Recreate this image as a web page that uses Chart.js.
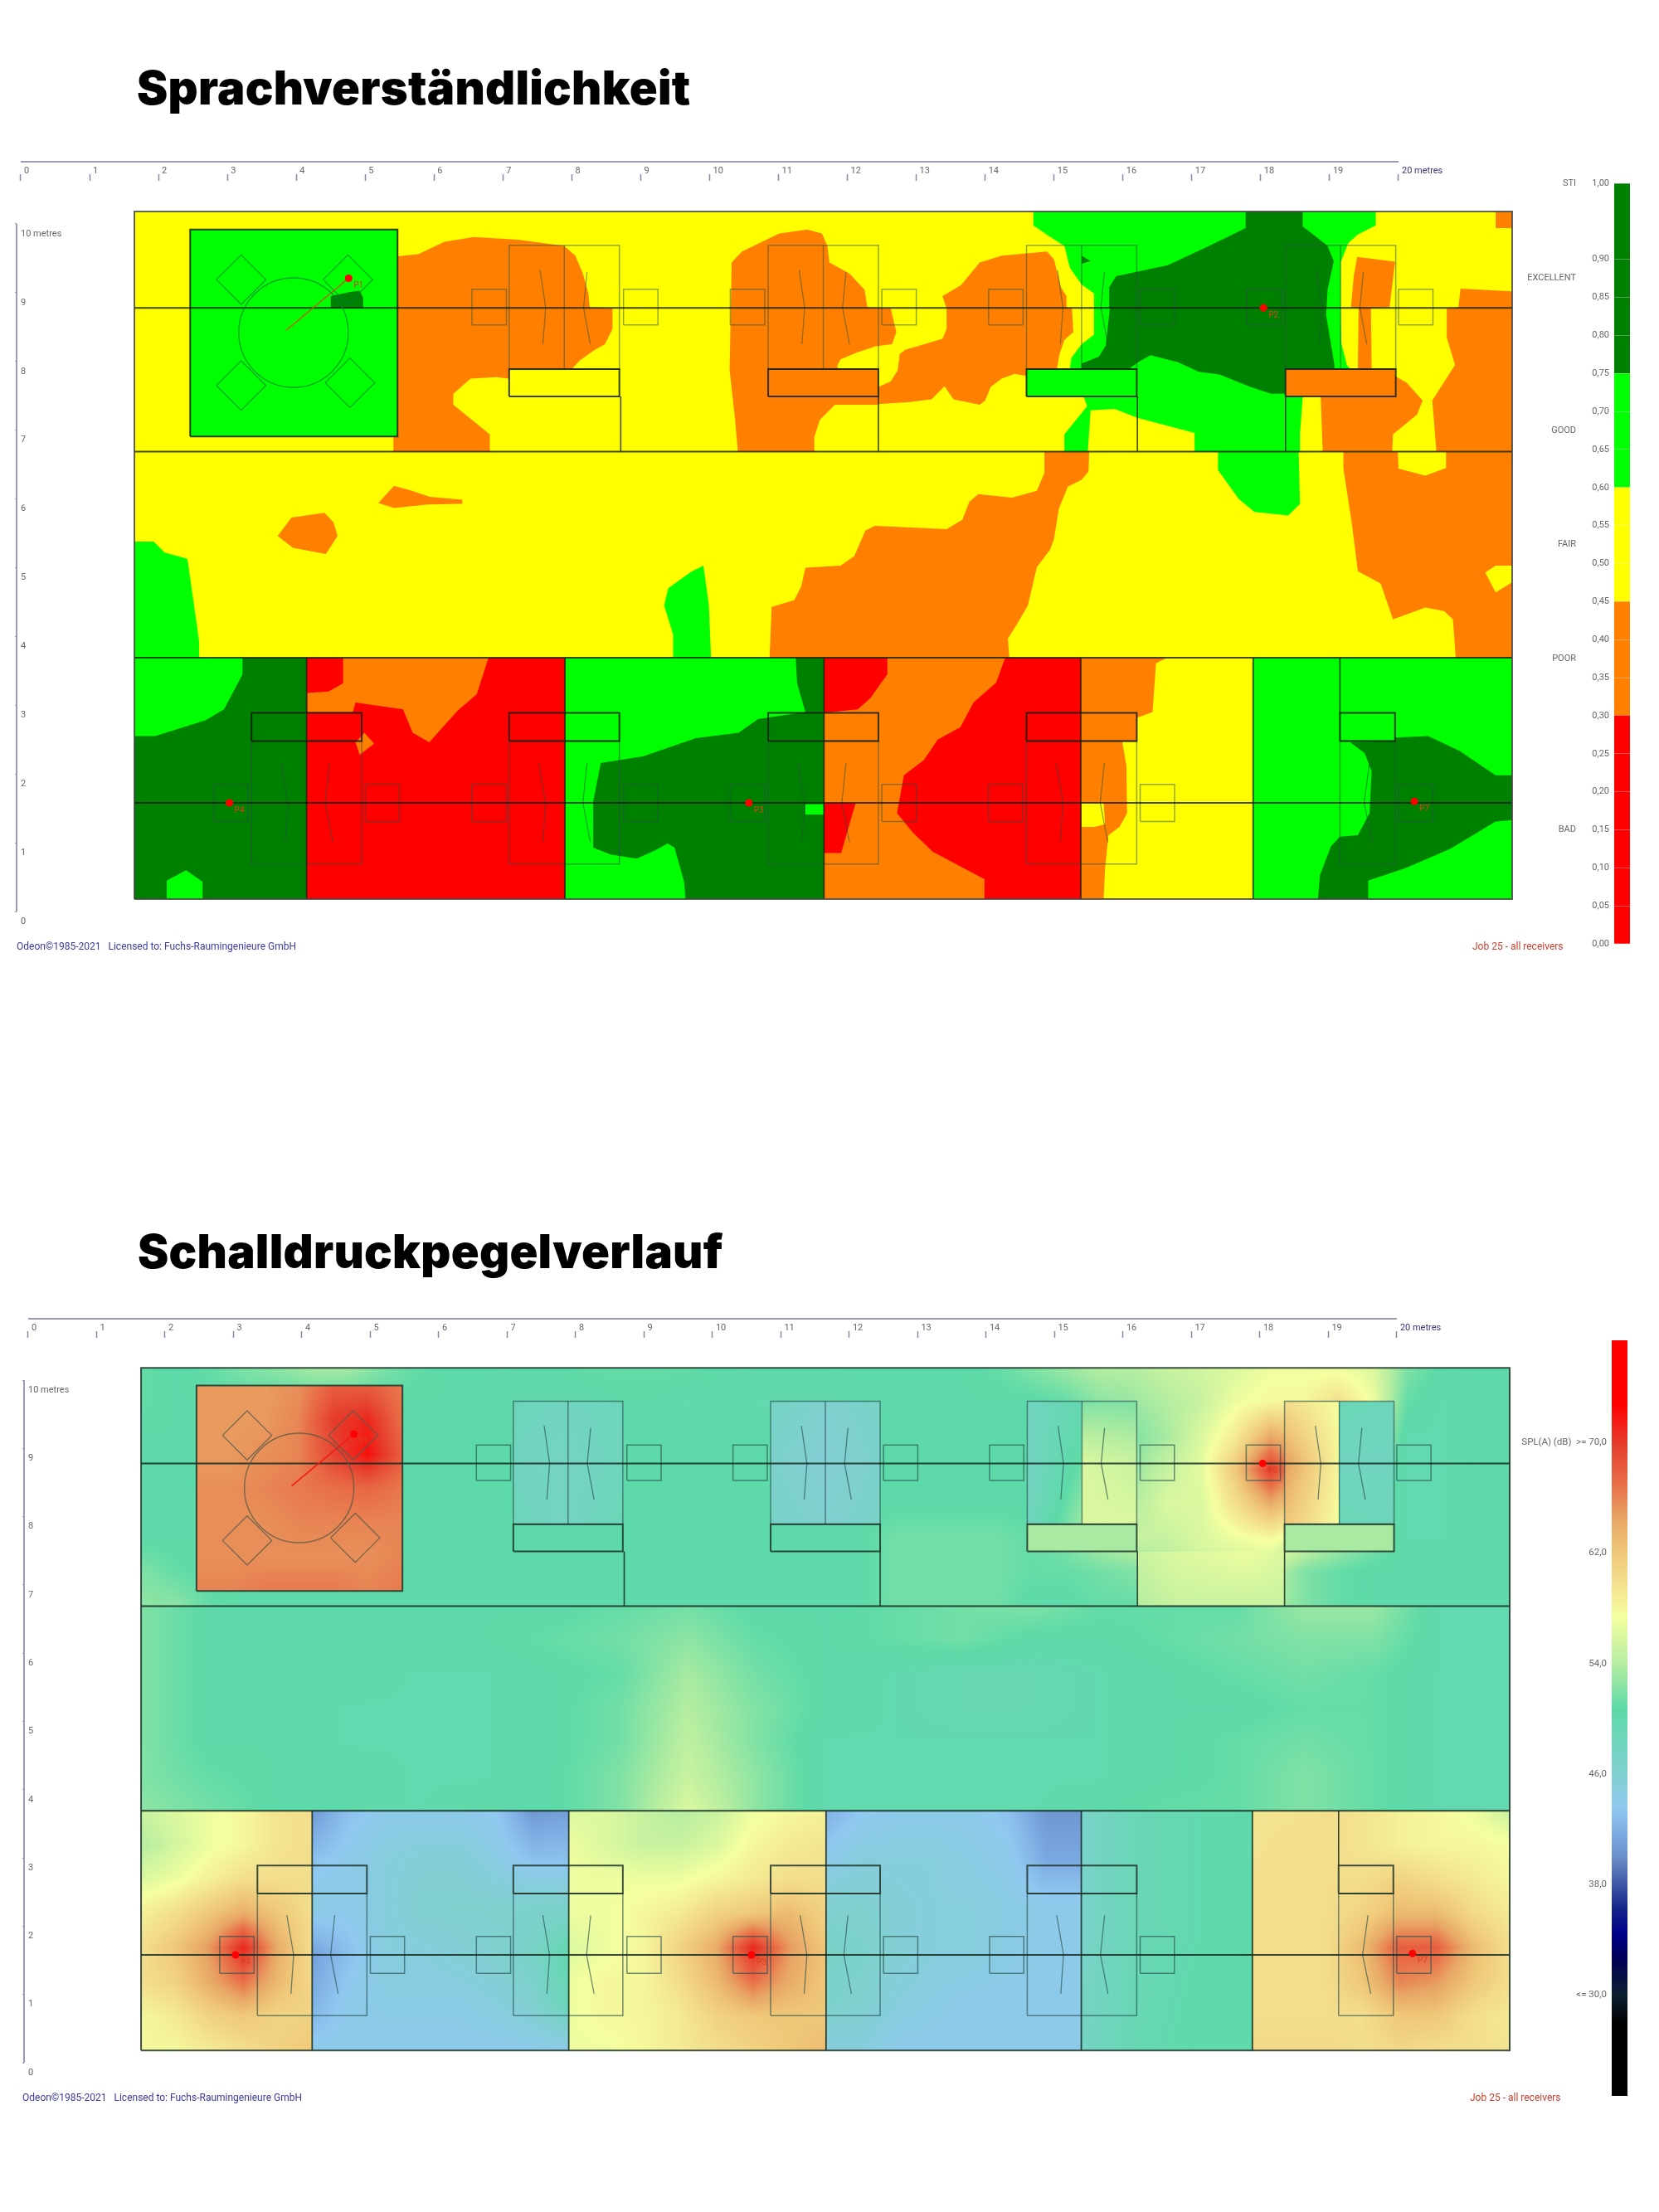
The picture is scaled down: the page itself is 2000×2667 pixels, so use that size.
<!DOCTYPE html>
<html>
<head>
<meta charset="utf-8">
<title>Sprachverständlichkeit / Schalldruckpegelverlauf</title>
<script src="https://cdn.jsdelivr.net/npm/chart.js@4"></script>
<style>
    body { margin: 0; background: #fff; width: 2000px; height: 2667px; position: relative; overflow: hidden; }
    canvas { position: absolute; }
    h1 { position: absolute; margin: 0; font: 900 56px Inter, sans-serif; letter-spacing: 0.25px; color: #000; white-space: nowrap; }
    .note { position: absolute; font: 12px Roboto, sans-serif; white-space: nowrap; }
</style>
</head>
<body>
<h1 style="left:165px; top:72px">Sprachverständlichkeit</h1>
<h1 style="left:166px; top:1475px">Schalldruckpegelverlauf</h1>
<canvas id="stiPlan" width="1850" height="1000" style="left:0; top:150px"></canvas>
<canvas id="stiBar" width="220" height="960" style="left:1780px; top:200px"></canvas>
<canvas id="splPlan" width="1850" height="1000" style="left:0; top:1550px"></canvas>
<canvas id="splBar" width="300" height="950" style="left:1700px; top:1600px"></canvas>
<div class="note" style="left:20px; top:1134px; color:#3a3aa0">Odeon©1985-2021 &nbsp; Licensed to: Fuchs-Raumingenieure GmbH</div>
<div class="note" style="left:1775px; top:1134px; color:#c8402f">Job 25 - all receivers</div>
<div class="note" style="left:27px; top:2522px; color:#3a3aa0">Odeon©1985-2021 &nbsp; Licensed to: Fuchs-Raumingenieure GmbH</div>
<div class="note" style="left:1772px; top:2522px; color:#c8402f">Job 25 - all receivers</div>
<script>
// Alle Positionen in Metern auf dem Lineal des Plans (x, y)
const rulerXValues = [0, 1, 2, 3, 4, 5, 6, 7, 8, 9, 10, 11, 12, 13, 14, 15, 16, 17, 18, 19, 20];
const rulerYValues = [0, 1, 2, 3, 4, 5, 6, 7, 8, 9, 10];

// STI Skala
const stiTicks = [0, 0.05, 0.1, 0.15, 0.2, 0.25, 0.3, 0.35, 0.4, 0.45, 0.5, 0.55, 0.6, 0.65, 0.7, 0.75, 0.8, 0.85, 0.9, 1];
const stiBandEdges = [0, 0.3, 0.45, 0.6, 0.75, 1];
const stiBandColors = ['#ff0000', '#ff8000', '#ffff00', '#00ff00', '#008000'];
const stiGrades = ['BAD', 'POOR', 'FAIR', 'GOOD', 'EXCELLENT', 'STI'];
const stiGradeValues = [0.15, 0.375, 0.525, 0.675, 0.875, 1];

// SPL Skala
const splTicks = [30, 38, 46, 54, 62, 70];
const splStops = [77.4, 72.8, 70, 66.8, 64.5, 62, 59.8, 57.4, 54, 50.7, 46, 43.5, 41.5, 40, 38, 36.3, 34.4, 32.7, 30, 28, 22.7];
const splStopColors = ['#ff0000', '#ff0000', '#e63b2c', '#e8734a', '#e8a565', '#efc878', '#f3e08e', '#f5ff9f', '#b5eda0', '#5ddaa8', '#80d0d0', '#90c8f0', '#7aa8e0', '#6a8fc8', '#3e58a8', '#16258a', '#00008a', '#000058', '#0c2030', '#000000', '#000000'];

// STI Zonen, oberer Raum
const floorAll = [[1.65, 0.18], [21.65, 0.18], [21.65, 10.18], [1.65, 10.18]];
const upperOrangeA = [[5.47, 9.53], [5.77, 9.56], [6.15, 9.74], [6.58, 9.81], [7.22, 9.77], [7.89, 9.68], [8.05, 9.54], [8.16, 9.28], [8.24, 8.99], [8.26, 8.79], [8.59, 8.77], [8.59, 8.47], [8.48, 8.25], [8.32, 8.16], [8.11, 8.01], [8, 7.89], [7.09, 7.89], [7.09, 7.75], [6.9, 7.77], [6.53, 7.75], [6.28, 7.53], [6.28, 7.37], [6.81, 6.94], [6.81, 6.69], [5.41, 6.69], [5.41, 6.91], [5.47, 6.91]];
const upperOrangeB = [[10.41, 6.69], [10.37, 7.15], [10.29, 7.87], [10.32, 9.44], [10.47, 9.6], [11.01, 9.86], [11.42, 9.92], [11.63, 9.86], [11.71, 9.68], [11.74, 9.44], [12.03, 9.28], [12.25, 9.04], [12.29, 8.79], [12.63, 8.77], [12.71, 8.43], [12.65, 8.25], [12.41, 8.22], [12.14, 8.13], [11.9, 8.03], [11.85, 7.93], [11.87, 7.89], [12.45, 7.89], [12.45, 7.37], [11.82, 7.37], [11.6, 7.15], [11.52, 6.9], [11.52, 6.69]];
const upperOrangeC = [[12.45, 7.63], [12.63, 7.71], [12.73, 7.87], [12.76, 8.11], [12.84, 8.17], [13.38, 8.33], [13.44, 8.47], [13.44, 8.77], [13.38, 8.95], [13.65, 9.11], [13.92, 9.44], [14.24, 9.54], [14.9, 9.6], [15, 9.48], [15.1, 9.08], [15.18, 8.95], [15.18, 8.79], [15.26, 8.77], [15.28, 8.43], [15.15, 8.31], [15.08, 8.11], [15.04, 7.89], [14.6, 7.89], [14.6, 7.79], [14.43, 7.82], [14.24, 7.75], [14.08, 7.63], [14, 7.43], [13.92, 7.37], [13.54, 7.45], [13.41, 7.64], [13.22, 7.45], [12.9, 7.41], [12.45, 7.38]];
const upperGreen = [[14.7, 10.18], [19.67, 10.18], [19.67, 9.98], [19.4, 9.84], [19.27, 9.72], [19.16, 9.44], [19.16, 8.79], [19.17, 8.27], [19.25, 7.95], [19.3, 7.89], [18.36, 7.89], [18.36, 7.49], [18.61, 7.49], [18.57, 6.94], [18.57, 6.69], [17.05, 6.69], [17.04, 6.96], [16.21, 7.18], [15.88, 7.31], [15.53, 7.29], [15.49, 6.69], [15.15, 6.69], [15.15, 6.94], [15.48, 7.35], [15.43, 7.49], [14.6, 7.49], [14.6, 7.89], [15.23, 7.89], [15.25, 8.05], [15.4, 8.25], [15.58, 8.39], [15.58, 8.99], [15.4, 9.12], [15.23, 9.36], [15.15, 9.68], [14.9, 9.84], [14.7, 9.98]];
const upperDark = [[17.78, 10.18], [18.61, 10.18], [18.61, 9.96], [18.8, 9.82], [18.97, 9.68], [19.06, 9.46], [18.97, 9.04], [18.95, 8.67], [19.07, 7.95], [19.07, 7.89], [18.36, 7.89], [18.36, 7.53], [18.15, 7.53], [17.85, 7.63], [17.4, 7.81], [17.1, 7.85], [16.8, 7.99], [16.4, 8.09], [16.22, 7.99], [16.1, 7.9], [15.4, 7.89], [15.4, 7.97], [15.65, 8.07], [15.75, 8.23], [15.81, 8.77], [15.8, 9.08], [15.9, 9.24], [16.65, 9.4], [17.25, 9.68], [17.78, 9.94]];
const upperDarkTip = [[15.4, 9.54], [15.53, 9.46], [15.4, 9.42]];
const upperOrangeD = [[18.36, 7.89], [19.95, 7.89], [19.95, 7.79], [20.12, 7.69], [20.35, 7.43], [20.27, 7.23], [19.92, 6.94], [19.91, 6.69], [18.9, 6.69], [18.87, 7.49], [18.36, 7.49]];
const upperOrangeStrip = [[19.4, 9.52], [19.95, 9.45], [19.87, 8.79], [19.6, 8.77], [19.61, 7.89], [19.41, 7.89], [19.42, 8.77], [19.31, 8.79], [19.35, 9.24]];
const upperOrangeRight = [[20.9, 9.06], [21.65, 9.02], [21.65, 6.69], [20.55, 6.69], [20.49, 7.43], [20.82, 7.95], [20.7, 8.35], [20.7, 8.77], [20.87, 8.79]];
const upperOrangeCorner = [[21.41, 10.18], [21.65, 10.18], [21.65, 9.94], [21.41, 9.94]];
const tableGreen = [[2.46, 6.91], [5.47, 6.91], [5.47, 9.92], [2.46, 9.92]];
const tableDark = [[4.5, 8.78], [4.5, 8.95], [4.78, 9.01], [4.92, 9.03], [4.97, 8.93], [4.97, 8.78]];

// STI Zonen, mittlerer Raum
const midGreenLeft = [[1.65, 5.38], [1.93, 5.38], [2.09, 5.22], [2.42, 5.13], [2.59, 3.93], [2.59, 3.69], [1.65, 3.69]];
const midOrangeTail = [[5.42, 6.19], [5.68, 6.12], [5.94, 6.03], [6.41, 5.99], [6.41, 5.93], [5.91, 5.92], [5.42, 5.87], [5.19, 5.94]];
const midOrangeSpot = [[3.93, 5.73], [4.41, 5.8], [4.54, 5.66], [4.6, 5.46], [4.43, 5.2], [3.95, 5.29], [3.73, 5.46]];
const midGreenCentre = [[9.91, 5.03], [9.99, 4.45], [10.02, 3.69], [9.47, 3.69], [9.47, 4.03], [9.34, 4.45], [9.4, 4.7], [9.73, 4.94]];
const midOrangeBand = [[11.39, 5], [11.74, 5.02], [11.9, 5.03], [12.1, 5.17], [12.26, 5.54], [12.4, 5.61], [13.44, 5.56], [13.67, 5.7], [13.77, 5.96], [13.9, 6.07], [14.39, 6.02], [14.75, 6.12], [14.86, 6.38], [14.86, 6.69], [15.51, 6.69], [15.5, 6.4], [15.4, 6.28], [15.2, 6.18], [15.07, 5.86], [15, 5.42], [14.94, 5.26], [14.75, 5.01], [14.62, 4.45], [14.48, 4.21], [14.33, 3.97], [14.35, 3.69], [10.87, 3.69], [10.9, 4.43], [11.23, 4.53], [11.33, 4.73]];
const midGreenRight = [[17.38, 6.69], [18.55, 6.69], [18.57, 5.93], [18.4, 5.76], [17.91, 5.81], [17.68, 6], [17.38, 6.42]];
const midOrangeRight = [[19.2, 6.69], [21.65, 6.69], [21.65, 3.69], [20.83, 3.69], [20.79, 4.25], [20.66, 4.37], [20.39, 4.42], [19.92, 4.25], [19.74, 4.77], [19.41, 4.95], [19.32, 5.66], [19.2, 6.44]];
const midYellowTop = [[19.99, 6.69], [20.69, 6.69], [20.69, 6.45], [20.39, 6.34], [20, 6.44]];
const midYellowSide = [[21.41, 5.03], [21.65, 5.03], [21.65, 4.79], [21.41, 4.64], [21.26, 4.93]];

// STI Zonen, untere Räume
const lowDarkA = [[1.65, 0.18], [4.15, 0.18], [4.15, 3.69], [1.65, 3.69]];
const lowGreenA = [[1.65, 3.69], [3.22, 3.69], [3.22, 3.45], [2.95, 2.94], [2.68, 2.78], [1.95, 2.55], [1.65, 2.55]];
const lowGreenB = [[2.12, 0.18], [2.12, 0.45], [2.4, 0.6], [2.64, 0.43], [2.64, 0.18]];
const lowRedA = [[4.15, 0.18], [7.9, 0.18], [7.9, 3.69], [4.15, 3.69]];
const lowOrangeA = [[4.68, 3.69], [6.79, 3.69], [6.62, 3.16], [6.34, 2.92], [5.93, 2.46], [5.69, 2.6], [5.55, 2.94], [4.86, 3.04], [4.82, 2.9], [4.16, 2.9], [4.16, 3.18], [4.47, 3.2], [4.68, 3.32]];
const lowOrangeTip = [[4.99, 2.6], [5.13, 2.44], [4.92, 2.28], [4.86, 2.46]];
const lowGreenC = [[7.9, 0.18], [11.66, 0.18], [11.66, 3.69], [7.9, 3.69]];
const lowDarkC = [[11.25, 3.69], [11.66, 3.69], [11.66, 0.18], [9.65, 0.18], [9.63, 0.43], [9.49, 0.93], [9.39, 0.99], [9.21, 0.89], [8.94, 0.77], [8.56, 0.83], [8.31, 0.93], [8.31, 1.6], [8.42, 2.16], [9.04, 2.26], [9.8, 2.52], [10.42, 2.6], [10.7, 2.8], [11.39, 2.9], [11.27, 3.32]];
const lowGreenSquare = [[11.39, 1.41], [11.66, 1.41], [11.66, 1.56], [11.39, 1.56]];
const lowRedD = [[11.66, 0.18], [15.39, 0.18], [15.39, 3.69], [11.66, 3.69]];
const lowOrangeD = [[12.58, 3.69], [14.29, 3.69], [14.16, 3.33], [13.83, 3.04], [13.64, 2.68], [13.31, 2.5], [13.11, 2.2], [12.82, 1.98], [12.72, 1.43], [12.95, 1.15], [13.24, 0.87], [13.99, 0.47], [13.99, 0.18], [11.66, 0.18], [11.66, 0.85], [11.91, 0.85], [12.12, 1.58], [11.66, 1.58], [11.66, 2.89], [12.15, 2.94], [12.33, 3.1], [12.58, 3.45]];
const lowOrangeE = [[15.4, 3.69], [16.64, 3.69], [16.48, 3.61], [16.43, 2.9], [16.21, 2.82], [16.21, 2.47], [15.99, 2.47], [16.05, 2.12], [16.06, 1.43], [15.95, 1.23], [15.79, 1.11], [15.74, 0.63], [15.72, 0.18], [15.4, 0.18]];
const lowYellowPatch = [[15.4, 1.58], [15.72, 1.58], [15.74, 1.27], [15.59, 1.23], [15.4, 1.23]];
const lowGreenF = [[17.89, 0.18], [21.65, 0.18], [21.65, 3.69], [17.89, 3.69]];
const lowDarkF = [[19.3, 2.46], [19.94, 2.48], [19.94, 2.53], [20.43, 2.55], [20.88, 2.34], [21.41, 1.98], [21.65, 1.98], [21.65, 1.33], [21.41, 1.31], [20.75, 0.91], [20.1, 0.63], [19.56, 0.45], [19.56, 0.18], [18.83, 0.18], [18.86, 0.53], [19.02, 0.95], [19.15, 1.09], [19.41, 1.11], [19.58, 1.43], [19.61, 2.04], [19.51, 2.3]];

// Reihenfolge: von unten nach oben, [STI Wert, Zone]
const stiZones = [
    [0.5, floorAll],
    [0.4, upperOrangeA], [0.4, upperOrangeB], [0.4, upperOrangeC], [0.65, upperGreen], [0.8, upperDark], [0.8, upperDarkTip],
    [0.4, upperOrangeD], [0.4, upperOrangeStrip], [0.4, upperOrangeRight], [0.4, upperOrangeCorner], [0.65, tableGreen], [0.8, tableDark],
    [0.65, midGreenLeft], [0.4, midOrangeTail], [0.4, midOrangeSpot], [0.65, midGreenCentre], [0.4, midOrangeBand], [0.65, midGreenRight],
    [0.4, midOrangeRight], [0.5, midYellowTop], [0.5, midYellowSide],
    [0.8, lowDarkA], [0.65, lowGreenA], [0.65, lowGreenB], [0.15, lowRedA], [0.4, lowOrangeA], [0.4, lowOrangeTip],
    [0.65, lowGreenC], [0.8, lowDarkC], [0.65, lowGreenSquare], [0.15, lowRedD], [0.4, lowOrangeD], [0.4, lowOrangeE], [0.5, lowYellowPatch],
    [0.65, lowGreenF], [0.8, lowDarkF]
];

// SPL in dB, Zeilen von oben nach unten, Stützstellen gleichmäßig im Rechteck
const splUpper = [
    [51, 50.5, 51, 52, 52.5, 53.5, 53.5, 52, 51, 50.5, 50.5, 50.5, 50.5, 51, 51, 51, 51, 50.5, 50.5, 50.5, 50.5, 50.5, 50.5, 50.5, 50.5, 51, 52, 53, 54, 54, 55, 55.5, 56, 57, 57, 57, 56, 52, 50.5, 50.5, 50.5],
    [51, 50.5, 50.5, 50.5, 50.5, 50.5, 50.5, 50.5, 50.5, 50.5, 50.5, 50, 50, 50, 50.5, 50.5, 50, 50.5, 50, 50, 50, 50.5, 50.5, 50.5, 50.5, 50.5, 50.5, 51, 52.5, 53, 54, 55, 57, 58, 58, 60, 57, 51, 50, 50.5, 50.5],
    [50.5, 50.5, 50.5, 50.5, 50.5, 50.5, 50.5, 50.5, 50.5, 50.5, 50.5, 50.5, 50.5, 50.5, 50.5, 50.5, 50.5, 50.5, 50.5, 50.5, 50.5, 50.5, 50.5, 50.5, 50.5, 50.5, 50.5, 51, 53, 52, 53.5, 56, 59, 64, 62, 58, 55, 50, 50, 50.5, 50.5],
    [50.5, 50.5, 50.5, 50.5, 50.5, 50.5, 50.5, 50.5, 50.5, 50.5, 50.5, 50.5, 50.5, 50.5, 50.5, 50.5, 50.5, 50.5, 50.5, 50.5, 50.5, 50.5, 50.5, 50.5, 50.5, 50.5, 50.5, 51, 54, 53, 55, 56.5, 62, 70, 64, 58, 52, 50, 50, 50.5, 50.5],
    [50.5, 50.5, 50.5, 50.5, 50.5, 50.5, 50.5, 50.5, 50.5, 50.5, 50.5, 50.5, 50.5, 50.5, 50.5, 50.5, 50.5, 50.5, 50.5, 50.5, 50.5, 50.5, 50.5, 50.5, 50.5, 50.5, 50.5, 51, 53, 54, 56, 56, 60, 64, 61, 57, 52, 50, 50, 50.5, 50.5],
    [50.5, 50.5, 50.5, 50.5, 50.5, 50.5, 50.5, 50.5, 50.5, 50.5, 50.5, 50.5, 50.5, 50.5, 50.5, 50.5, 50.5, 50.5, 50.5, 50.5, 50.5, 50.5, 51.5, 51.5, 51.5, 51.5, 51, 52, 54, 55, 55, 56, 57, 58, 56, 54, 52, 50, 50, 50.5, 50.5],
    [52, 51, 50.5, 50.5, 50.5, 50.5, 50.5, 50.5, 50.5, 50.5, 50.5, 50.5, 50.5, 50.5, 50.5, 50.5, 50.5, 50.5, 50.5, 50.5, 50.5, 50.5, 51.5, 51.5, 51.5, 51.5, 51, 51, 51.5, 52, 54, 55, 55, 54.5, 52, 51, 50.5, 50.5, 50.5, 50.5, 50.5],
    [52.5, 52.5, 51, 50.5, 50.5, 50.5, 50.5, 50.5, 50.5, 50.5, 50.5, 50.5, 50.5, 50.5, 50.5, 50.5, 50.5, 50.5, 50.5, 50.5, 50.5, 50.5, 51.5, 51.5, 51.5, 51.5, 50.5, 50.5, 51, 51, 53, 53, 54, 54, 52, 51, 50.5, 50.5, 50.5, 50.5, 50.5]
];
const splMiddle = [
    [52, 50.5, 50.5, 50.5, 50.5, 50.5, 50.5, 51, 51.5, 50.5, 50.5, 51, 51.5, 52, 51, 51, 51, 53, 53, 50, 50],
    [52, 50.5, 50.5, 50.5, 50.5, 50.5, 51, 51.5, 52.5, 51, 50.5, 51, 51.5, 50.5, 50.5, 51, 51.5, 52, 52, 50, 50],
    [52, 50.5, 50.5, 50.5, 50, 50, 50.5, 51, 53.5, 51.5, 50.5, 50, 49.5, 49.5, 50, 50.5, 51, 51.5, 51, 50, 50],
    [52, 50.5, 50.5, 50, 50, 50, 50.5, 51.5, 54, 52, 50.5, 50, 49.5, 49.5, 50, 50.5, 50.5, 51, 51, 50, 50],
    [52, 50.5, 50.5, 50, 50, 50, 50.5, 51.5, 54.5, 52, 50, 50, 50, 50, 50, 50.5, 51, 51.5, 51, 50, 50],
    [52, 51, 50.5, 50.5, 50, 50, 50.5, 52, 55, 52.5, 50, 50, 50, 50, 50, 50.5, 51, 52, 51, 50, 50],
    [52.5, 51.5, 50.5, 50.5, 50, 50.5, 50.5, 52, 56, 52.5, 50, 50, 50, 50, 50.5, 51, 51, 52, 51, 50, 50]
];
const splTable = [
    [65, 65, 65, 65.5, 68, 68, 66.5],
    [65, 65, 65, 66, 70, 71, 67],
    [65, 65, 65.5, 66, 69.5, 72, 68],
    [65.5, 65.5, 66, 66.5, 67, 67.5, 66.5],
    [65.5, 65.5, 65.5, 66, 66, 66, 66],
    [65.5, 65.5, 65.5, 65.5, 65.5, 65.5, 66],
    [66, 66, 66.5, 66.5, 66.5, 66, 66.5]
];
const splGap = [[55, 56, 56.5, 57, 56], [54, 55, 55, 55, 55]];
const splBoxA = [[48.5, 48, 48.5], [48, 47.5, 48.5], [48.5, 47.5, 49]];
const splBoxB = [[47.5, 46, 47], [46.5, 45.5, 46.5], [47, 46, 47]];
const splBoxCLeft = [[48, 49.5], [47.5, 51], [48, 53]];
const splBoxCRight = [[52, 52], [56, 55], [56, 56]];
const splBoxDLeft = [[60, 57.5], [65, 58], [62, 57.5]];
const splBoxDRight = [[49, 48.5], [48, 48], [49, 48.5]];
const splShelfC = [[53.5, 53.5]];
const splShelfD = [[53.5, 53.5]];
const splRoomA = [
    [55, 56, 57, 58, 59.5, 60],
    [54, 55.5, 57, 58, 59.5, 60],
    [56, 57, 58.5, 60, 60, 60],
    [58.5, 60, 62, 64, 62, 60],
    [60, 62, 65, 71, 64, 60],
    [60, 61, 64, 67, 63, 60.5],
    [58, 59, 61, 62, 61, 61],
    [58, 58, 59, 60, 61, 62]
];
const splRoomB = [
    [40.5, 43, 44, 44, 44, 43.5, 40.5, 41],
    [43, 44, 45, 45.5, 45.5, 44.5, 43, 43],
    [44.5, 44, 45, 46, 46, 46, 46.5, 46.5],
    [41, 43, 45, 45, 45.5, 46, 47, 50],
    [42, 44, 44.5, 44.5, 44.5, 45, 46, 49],
    [44, 44, 44, 44, 44, 44, 44, 44]
];
const splRoomC = [
    [56, 56, 55, 54, 55, 57, 58, 58.5],
    [57, 56, 55, 55, 56, 58, 59, 59.5],
    [57, 57, 57, 57, 58, 59, 60, 60],
    [57, 57, 58, 59, 61, 62, 63, 61],
    [56, 57, 58, 61, 64, 71, 65, 62],
    [57, 58, 58, 60, 63, 67, 64, 62],
    [57, 58, 58, 59, 61, 62, 62, 62],
    [57, 57, 58, 59, 60, 61, 62, 63]
];
const splRoomD = [
    [42, 43.5, 44, 44, 44, 43, 40.5, 40.5],
    [44, 45, 45, 45, 44.5, 44, 41.5, 41.5],
    [46, 46, 45.5, 45, 45, 44.5, 44, 44],
    [47, 46.5, 45.5, 45, 45, 44.5, 44, 44],
    [46.5, 46, 45, 44.5, 44, 44, 44, 44],
    [45, 45, 44, 44, 44, 44, 44, 44]
];
const splRoomE = [[47, 49, 50, 50.5], [47, 49, 50, 50.5], [47.5, 49.5, 50.5, 50.5]];
const splRoomF = [
    [59.5, 59.5, 60, 59.5, 58.5, 58, 57, 55],
    [59.5, 60, 60, 59.5, 58.5, 58, 58, 57.5],
    [60, 60, 60, 60, 61, 60, 59, 58],
    [60, 60, 60, 61, 63, 63, 60.5, 59],
    [60, 60, 60, 63, 68, 68, 63, 60],
    [60, 60, 60, 62, 66, 65, 62, 60],
    [60, 60, 60, 60, 62, 62, 60, 59],
    [60.5, 60.5, 60.5, 60, 60.5, 60, 60, 59.5]
];

// [x von, x bis, y von, y bis, Werte]
const splPatches = [
    [1.65, 21.65, 6.69, 10.18, splUpper],
    [1.65, 21.65, 3.69, 6.69, splMiddle],
    [16.21, 18.36, 6.69, 7.49, splGap],
    [7.09, 8.71, 7.89, 9.69, splBoxA],
    [10.85, 12.45, 7.89, 9.69, splBoxB],
    [14.6, 15.39, 7.89, 9.69, splBoxCLeft],
    [15.39, 16.21, 7.89, 9.69, splBoxCRight],
    [18.36, 19.15, 7.89, 9.69, splBoxDLeft],
    [19.15, 19.95, 7.89, 9.69, splBoxDRight],
    [14.6, 16.21, 7.49, 7.89, splShelfC],
    [18.36, 19.95, 7.49, 7.89, splShelfD],
    [2.46, 5.47, 6.91, 9.92, splTable],
    [1.65, 4.15, 0.18, 3.69, splRoomA],
    [4.15, 7.9, 0.18, 3.69, splRoomB],
    [7.9, 11.66, 0.18, 3.69, splRoomC],
    [11.66, 15.39, 0.18, 3.69, splRoomD],
    [15.39, 17.89, 0.18, 3.69, splRoomE],
    [17.89, 21.65, 0.18, 3.69, splRoomF]
];

// Grundriss
const fullWallsY = [8.78, 6.69, 3.69, 1.58];
const stubWallsX = [8.71, 12.45, 16.21, 18.36];
const lowerWallsX = [4.15, 7.9, 11.66, 15.39, 17.89];
const upperBoxX = [7.09, 10.85, 14.6, 18.36];
const lowerBoxX = [3.35, 7.09, 10.85, 14.6];
const upperSquaresX = [6.55, 8.75, 10.3, 12.5, 14.05, 16.25, 17.8, 20];
const lowerSquaresX = [2.8, 5, 6.55, 8.75, 10.3, 12.5, 14.05, 16.25, 20];
const chairCentres = [[3.2, 9.19], [4.75, 9.19], [3.2, 7.65], [4.78, 7.69]];
const receiverX = [4.76, 18.04, 3.03, 10.57, 20.23];
const receiverY = [9.21, 8.78, 1.58, 1.58, 1.6];
const receiverNames = ['P1', 'P2', 'P4', 'P3', 'P7'];

function hexToRgb(hex) {
    return [1, 3, 5].map(i => parseInt(hex.slice(i, i + 2), 16));
}

function splColor(value) {
    for (let i = 0; i < splStops.length - 1; i++) {
        if (value >= splStops[i + 1]) {
            const t = (value - splStops[i + 1]) / (splStops[i] - splStops[i + 1]);
            const a = hexToRgb(splStopColors[i + 1]);
            const b = hexToRgb(splStopColors[i]);
            return a.map((c, k) => c + (b[k] - c) * Math.min(t, 1));
        }
    }
    return [0, 0, 0];
}

function stiColor(value) {
    for (let i = 0; i < stiBandColors.length; i++) {
        if (value < stiBandEdges[i + 1]) return stiBandColors[i];
    }
    return stiBandColors[stiBandColors.length - 1];
}

function readGrid(grid, fx, fy) {
    const rows = grid.length - 1;
    const cols = grid[0].length - 1;
    const gy = Math.min(Math.max(fy, 0), 1) * rows;
    const gx = Math.min(Math.max(fx, 0), 1) * cols;
    const r = Math.min(Math.floor(gy), Math.max(rows - 1, 0));
    const c = Math.min(Math.floor(gx), Math.max(cols - 1, 0));
    const r2 = Math.min(r + 1, rows);
    const c2 = Math.min(c + 1, cols);
    const ty = gy - r;
    const tx = gx - c;
    const top = grid[r][c] + (grid[r][c2] - grid[r][c]) * tx;
    const bottom = grid[r2][c] + (grid[r2][c2] - grid[r2][c]) * tx;
    return top + (bottom - top) * ty;
}

// Zeichnet die Pegelkarte über die Skalen des Charts
const heatPlugin = {
    id: 'heat',
    beforeDatasetsDraw(chart) {
        const { x, y } = chart.scales;
        splPatches.forEach(([x0, x1, y0, y1, grid]) => {
            const left = Math.round(x.getPixelForValue(x0));
            const right = Math.round(x.getPixelForValue(x1));
            const top = Math.round(y.getPixelForValue(y1));
            const bottom = Math.round(y.getPixelForValue(y0));
            const w = right - left;
            const h = bottom - top;
            const off = document.createElement('canvas');
            off.width = w;
            off.height = h;
            const octx = off.getContext('2d');
            const img = octx.createImageData(w, h);
            for (let py = 0; py < h; py++) {
                for (let px = 0; px < w; px++) {
                    const rgb = splColor(readGrid(grid, (px + 0.5) / w, (py + 0.5) / h));
                    const i = (py * w + px) * 4;
                    img.data[i] = rgb[0];
                    img.data[i + 1] = rgb[1];
                    img.data[i + 2] = rgb[2];
                    img.data[i + 3] = 255;
                }
            }
            octx.putImageData(img, 0, 0);
            chart.ctx.drawImage(off, left, top);
        });
    }
};

// P1, P2 ... neben den Empfängern
const receiverLabels = {
    id: 'receiverLabels',
    afterDatasetsDraw(chart) {
        const { x, y } = chart.scales;
        const ctx = chart.ctx;
        ctx.save();
        ctx.font = '10px Roboto, sans-serif';
        ctx.fillStyle = '#d8401c';
        receiverX.forEach((rx, i) => {
            ctx.fillText(receiverNames[i], x.getPixelForValue(rx) + 6, y.getPixelForValue(receiverY[i]) + 12);
        });
        ctx.restore();
    }
};

function toPoints(list) {
    return list.map(p => ({ x: p[0], y: p[1] }));
}

function rect(x0, x1, y0, y1) {
    return [[x0, y0], [x1, y0], [x1, y1], [x0, y1], [x0, y0]];
}

function lineSet(points, color, width) {
    return {
        type: 'scatter',
        showLine: true,
        data: toPoints(points),
        borderColor: color,
        borderWidth: width,
        pointRadius: 0,
        fill: false,
        clip: false
    };
}

function planLines(thin, dark, wall, geo) {
    const sets = [];
    // Lineale
    sets.push(lineSet([[0, geo.rulerValue], [20, geo.rulerValue]], '#9a9ab8', 2));
    sets.push(lineSet([[geo.minX, 0], [geo.minX, 10]], '#9a9ab8', 2));
    // Tisch
    chairCentres.forEach(c => {
        sets.push(lineSet([[c[0] - 0.36, c[1]], [c[0], c[1] + 0.36], [c[0] + 0.36, c[1]], [c[0], c[1] - 0.36], [c[0] - 0.36, c[1]]], geo.tableLine, 1.3));
    });
    sets.push(lineSet(rect(2.46, 5.47, 6.91, 9.92), dark, 2));
    // Boxen oben
    upperBoxX.forEach(bx => {
        sets.push(lineSet(rect(bx, bx + 1.6, 7.89, 9.69), thin, 1.5));
        sets.push(lineSet([[bx + 0.8, 9.69], [bx + 0.8, 7.89]], thin, 1.5));
        sets.push(lineSet(rect(bx, bx + 1.6, 7.49, 7.89), dark, 2));
        sets.push(lineSet([[bx + 0.45, 9.33], [bx + 0.53, 8.78], [bx + 0.49, 8.25]], thin, 1.3));
        sets.push(lineSet([[bx + 1.13, 9.3], [bx + 1.08, 8.78], [bx + 1.18, 8.25]], thin, 1.3));
    });
    // Boxen unten
    lowerBoxX.forEach(bx => {
        sets.push(lineSet(rect(bx, bx + 1.6, 0.69, 2.48), thin, 1.5));
        sets.push(lineSet(rect(bx, bx + 1.6, 2.48, 2.89), dark, 2));
        sets.push(lineSet([[bx + 0.43, 2.16], [bx + 0.53, 1.58], [bx + 0.49, 1.01]], thin, 1.3));
        sets.push(lineSet([[bx + 1.13, 2.16], [bx + 1.07, 1.58], [bx + 1.18, 1.01]], thin, 1.3));
    });
    sets.push(lineSet(rect(19.15, 19.95, 0.69, 2.48), thin, 1.5));
    sets.push(lineSet(rect(19.15, 19.95, 2.48, 2.89), dark, 2));
    sets.push(lineSet([[19.58, 2.16], [19.5, 1.58], [19.62, 1.01]], thin, 1.3));
    upperSquaresX.forEach(sx => sets.push(lineSet(rect(sx, sx + 0.5, 8.53, 9.05), thin, 1.5)));
    lowerSquaresX.forEach(sx => sets.push(lineSet(rect(sx, sx + 0.5, 1.31, 1.85), thin, 1.5)));
    // Wände
    stubWallsX.forEach(wx => sets.push(lineSet([[wx, 7.49], [wx, 6.69]], wall, 1.6)));
    lowerWallsX.forEach(wx => sets.push(lineSet([[wx, 0.18], [wx, 3.69]], wall, 1.8)));
    sets.push(lineSet([[19.15, 3.69], [19.15, 2.89]], wall, 1.6));
    fullWallsY.forEach(wy => sets.push(lineSet([[1.65, wy], [21.65, wy]], wall, 2)));
    sets.push(lineSet(rect(1.65, 21.65, 0.18, 10.18), geo.outline, 2));
    // Empfänger mit Linie vom Tisch
    sets.push(lineSet([[3.85, 8.45], [receiverX[0], receiverY[0]]], geo.beam, 1.6));
    sets.push({
        type: 'scatter',
        data: [{ x: 3.96, y: 8.42 }],
        pointRadius: geo.circleRadius,
        pointBackgroundColor: 'rgba(0,0,0,0)',
        pointBorderColor: geo.tableLine,
        pointBorderWidth: 1.4,
        clip: false
    });
    sets.push({
        type: 'scatter',
        data: receiverX.map((rx, i) => ({ x: rx, y: receiverY[i] })),
        pointRadius: 4.5,
        pointBackgroundColor: '#ff0000',
        pointBorderWidth: 0,
        clip: false
    });
    return sets;
}

function planChart(id, geo, zoneSets, plugins) {
    // Chart.js zeichnet den ersten Datensatz zuletzt, darum order von oben nach unten
    const lineSets = planLines(geo.thin, geo.dark, geo.wall, geo);
    const datasets = zoneSets.concat(lineSets);
    datasets.forEach((d, i) => { d.order = datasets.length - i; });
    new Chart(document.getElementById(id), {
        type: 'scatter',
        data: { datasets: datasets },
        options: {
            responsive: false,
            animation: false,
            events: [],
            layout: {
                autoPadding: false,
                padding: { top: geo.rulerPx - geo.canvasTop, right: 1850 - geo.rightPx, bottom: geo.canvasTop + 1000 - geo.zeroPx, left: 0 }
            },
            plugins: { legend: { display: false }, tooltip: { enabled: false } },
            scales: {
                x: {
                    type: 'linear',
                    position: 'top',
                    min: geo.minX,
                    max: 21.65,
                    afterFit: s => {
                        s.height = geo.areaTop - geo.rulerPx;
                        s.paddingLeft = 0;
                        s.paddingRight = 0;
                    },
                    afterBuildTicks: s => { s.ticks = rulerXValues.map(v => ({ value: v })); },
                    border: { display: false },
                    grid: {
                        drawOnChartArea: false,
                        tickLength: geo.areaTop - geo.rulerPx,
                        tickBorderDash: [0, geo.areaTop - geo.rulerPx - 8, 8, 100],
                        tickColor: '#8a8aa8',
                        tickWidth: 1.5
                    },
                    ticks: {
                        autoSkip: false,
                        maxRotation: 0,
                        align: 'start',
                        labelOffset: 4,
                        padding: 5 - (geo.areaTop - geo.rulerPx),
                        color: ctx => ctx.tick.value === 20 ? '#33337a' : '#666',
                        font: { family: 'Roboto', size: 11 },
                        callback: v => v === 20 ? '20 metres' : String(v)
                    }
                },
                y: {
                    type: 'linear',
                    position: 'left',
                    min: 0,
                    max: (geo.zeroPx - geo.areaTop) / geo.pxPerM,
                    afterFit: s => {
                        s.width = geo.leftPx;
                        s.paddingTop = 0;
                        s.paddingBottom = 0;
                    },
                    afterBuildTicks: s => { s.ticks = rulerYValues.map(v => ({ value: v })); },
                    border: { display: false },
                    grid: { drawOnChartArea: false, tickLength: 2, tickColor: '#8a8aa8' },
                    ticks: {
                        mirror: true,
                        padding: 5,
                        labelOffset: 12,
                        autoSkip: false,
                        color: '#666',
                        font: { family: 'Roboto', size: 11 },
                        callback: v => v === 10 ? '10 metres' : String(v)
                    }
                }
            }
        },
        plugins: plugins
    });
}

function stiBarChart() {
    const datasets = stiBandColors.map((color, i) => ({
        data: [[stiBandEdges[i], stiBandEdges[i + 1]]],
        backgroundColor: color,
        barPercentage: 1,
        categoryPercentage: 1,
        grouped: false
    }));
    new Chart(document.getElementById('stiBar'), {
        type: 'bar',
        data: { labels: ['STI'], datasets: datasets },
        options: {
            responsive: false,
            animation: false,
            events: [],
            layout: { padding: { top: 21, bottom: 22, left: 0, right: 35 } },
            plugins: { legend: { display: false }, tooltip: { enabled: false } },
            scales: {
                x: { display: false },
                y: {
                    min: 0,
                    max: 1,
                    weight: 0,
                    afterFit: s => { s.width = 36; s.paddingTop = 0; s.paddingBottom = 0; },
                    afterBuildTicks: s => { s.ticks = stiTicks.map(v => ({ value: v })); },
                    border: { display: false },
                    grid: { drawTicks: false, z: 1, color: 'rgba(255,255,255,0.3)' },
                    ticks: {
                        autoSkip: false,
                        padding: 6,
                        color: '#666',
                        font: { family: 'Roboto', size: 11 },
                        callback: v => v.toFixed(2).replace('.', ',')
                    }
                },
                grade: {
                    position: 'left',
                    min: 0,
                    max: 1,
                    weight: 1,
                    afterFit: s => { s.width = 130; s.paddingTop = 0; s.paddingBottom = 0; },
                    afterBuildTicks: s => { s.ticks = stiGradeValues.map(v => ({ value: v })); },
                    border: { display: false },
                    grid: { display: false, drawTicks: false },
                    ticks: {
                        autoSkip: false,
                        padding: 10,
                        color: '#666',
                        font: { family: 'Roboto', size: 11 },
                        callback: v => stiGrades[stiGradeValues.indexOf(v)]
                    }
                }
            }
        }
    });
}

function splBarChart() {
    const low = splStops[splStops.length - 1];
    const high = splStops[0];
    new Chart(document.getElementById('splBar'), {
        type: 'bar',
        data: {
            labels: ['SPL'],
            datasets: [{
                data: [[low, high]],
                barPercentage: 1,
                categoryPercentage: 1,
                backgroundColor: ctx => {
                    const { chart } = ctx;
                    if (!chart.chartArea) return '#000';
                    const y = chart.scales.y;
                    const g = chart.ctx.createLinearGradient(0, y.getPixelForValue(low), 0, y.getPixelForValue(high));
                    splStops.forEach((v, i) => g.addColorStop((v - low) / (high - low), splStopColors[i]));
                    return g;
                }
            }]
        },
        options: {
            responsive: false,
            animation: false,
            events: [],
            layout: { padding: { top: 16, bottom: 23, left: 0, right: 38 } },
            plugins: { legend: { display: false }, tooltip: { enabled: false } },
            scales: {
                x: { display: false },
                y: {
                    min: low,
                    max: high,
                    afterFit: s => { s.width = 243; s.paddingTop = 0; s.paddingBottom = 0; },
                    afterBuildTicks: s => { s.ticks = splTicks.map(v => ({ value: v })); },
                    border: { display: false },
                    grid: { display: false, drawTicks: false },
                    ticks: {
                        autoSkip: false,
                        padding: 6,
                        color: '#666',
                        font: { family: 'Roboto', size: 11.5 },
                        callback: v => {
                            const text = v.toFixed(1).replace('.', ',');
                            if (v === 70) return 'SPL(A) (dB)  >= ' + text;
                            if (v === 30) return '<= ' + text;
                            return text;
                        }
                    }
                }
            }
        }
    });
}

const zoneSets = stiZones.map(([level, zone]) => ({
    type: 'scatter',
    showLine: true,
    data: toPoints(zone),
    fill: 'shape',
    backgroundColor: stiColor(level),
    borderColor: stiColor(level),
    borderWidth: 0,
    pointRadius: 0
}));

planChart('stiPlan', {
    canvasTop: 150, rulerPx: 195, areaTop: 218, zeroPx: 1099, leftPx: 20, rightPx: 1823, pxPerM: 82.9,
    minX: -0.06, rulerValue: (1099 - 195) / 82.9, circleRadius: 66,
    thin: 'rgba(40,80,70,0.5)', dark: 'rgba(20,30,20,0.85)', wall: 'rgba(20,30,20,0.8)', outline: 'rgba(70,70,70,0.85)',
    tableLine: 'rgba(0,130,60,0.7)', beam: '#b06a10'
}, zoneSets, [receiverLabels]);

planChart('splPlan', {
    canvasTop: 1550, rulerPx: 1590, areaTop: 1613, zeroPx: 2487, leftPx: 29, rightPx: 1820, pxPerM: 82.3,
    minX: -0.06, rulerValue: (2487 - 1590) / 82.3, circleRadius: 66,
    thin: 'rgba(40,80,80,0.65)', dark: 'rgba(30,50,40,0.85)', wall: 'rgba(20,40,30,0.85)', outline: 'rgba(30,50,40,0.85)',
    tableLine: 'rgba(90,90,70,0.8)', beam: '#f01c14'
}, [], [heatPlugin, receiverLabels]);

stiBarChart();
splBarChart();
</script>
</body>
</html>
